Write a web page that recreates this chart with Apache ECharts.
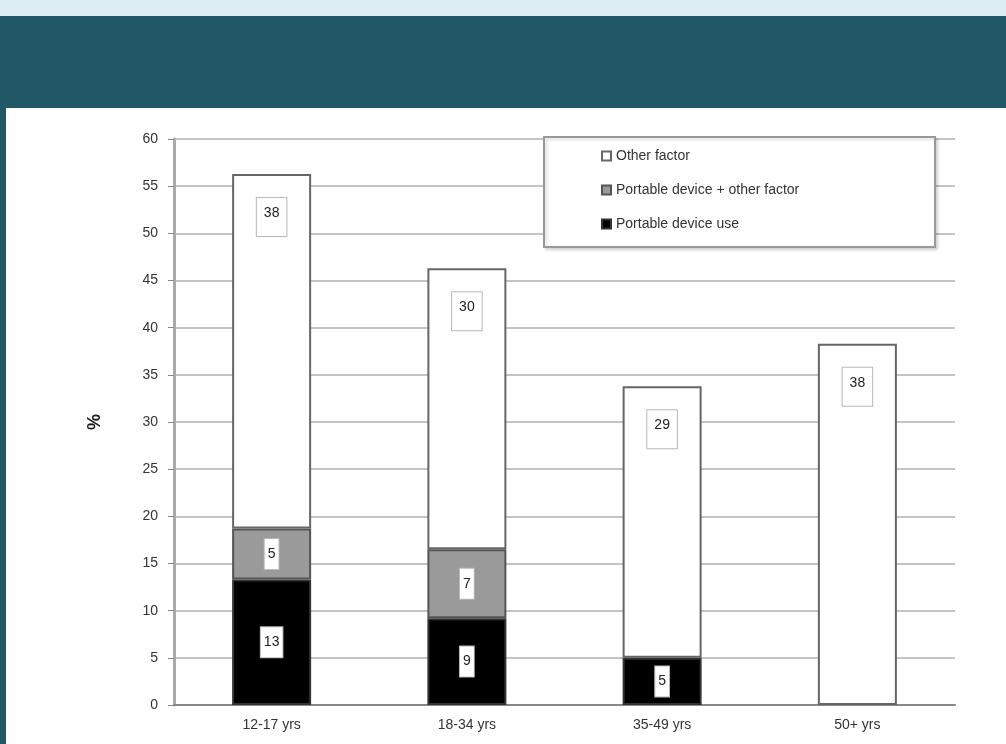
<!DOCTYPE html>
<html><head><meta charset="utf-8">
<script src="https://cdn.jsdelivr.net/npm/echarts@6/dist/echarts.min.js"></script>
<style>html,body{margin:0;padding:0;background:#fff}#c{width:1006px;height:744px}</style>
</head><body><div id="c"></div>
<script>
const categories = ['12-17 yrs', '18-34 yrs', '35-49 yrs', '50+ yrs'];
const deviceUse = [13.3, 9.2, 5.0, null];
const deviceOther = [5.4, 7.3, null, null];
const otherFactor = [37.6, 29.8, 28.8, 38.3];
const seriesNames = ['Portable device use', 'Portable device + other factor', 'Other factor'];

const chart = echarts.init(document.getElementById('c'));
const lbl = {
  show: true,
  formatter: p => Math.round(p.value),
  backgroundColor: '#fff', borderColor: '#b8b8b8', borderWidth: 1,
  padding: [6, 3, 10, 3], color: '#222', fontSize: 14, fontFamily: 'Liberation Sans'
};
const barBase = { type: 'bar', stack: 't', barWidth: 79 };
chart.setOption({
  animation: false,
  graphic: [
    { type: 'rect', shape: { x: 0, y: 0, width: 1006, height: 16 }, style: { fill: '#dcedf4' }, z: -10 },
    { type: 'rect', shape: { x: 0, y: 16, width: 1006, height: 92 }, style: { fill: '#215868' }, z: -10 },
    { type: 'rect', shape: { x: 0, y: 108, width: 6, height: 636 }, style: { fill: '#215868' }, z: -10 },
    { type: 'rect', shape: { x: 544, y: 137, width: 391, height: 110 },
      style: { fill: '#fff', stroke: '#999', lineWidth: 2, shadowColor: 'rgba(0,0,0,0.15)', shadowBlur: 3, shadowOffsetX: 2, shadowOffsetY: 2 }, z: 50 }
  ],
  legend: {
    data: ['Other factor', 'Portable device + other factor', 'Portable device use'],
    orient: 'vertical', left: 596, top: 144, itemGap: 20, z: 60,
    icon: 'rect', itemWidth: 9, itemHeight: 9,
    textStyle: { fontSize: 14, color: '#333', fontFamily: 'Liberation Sans' }
  },
  grid: { left: 174, right: 51, top: 139, bottom: 39 },
  xAxis: {
    type: 'category', data: categories,
    axisLine: { lineStyle: { color: '#888', width: 2 } },
    axisTick: { show: false },
    axisLabel: { fontSize: 14, color: '#333', fontFamily: 'Liberation Sans', margin: 13 }
  },
  yAxis: {
    type: 'value', min: 0, max: 60, interval: 5,
    name: '%', nameLocation: 'middle', nameGap: 70, nameRotate: 90,
    nameTextStyle: { fontSize: 18, color: '#222', fontFamily: 'Liberation Sans', fontWeight: 'bold' },
    axisLine: { show: true, lineStyle: { color: '#aaa', width: 3 } },
    axisTick: { show: true, length: 6, lineStyle: { color: '#888' } },
    axisLabel: { fontSize: 14, color: '#333', fontFamily: 'Liberation Sans', margin: 16 },
    splitLine: { lineStyle: { color: '#c4c4c4', width: 2 } }
  },
  series: [
    Object.assign({}, barBase, { name: seriesNames[0], data: deviceUse,
      itemStyle: { color: '#000', borderColor: '#333', borderWidth: 2 }, label: lbl }),
    Object.assign({}, barBase, { name: seriesNames[1], data: deviceOther,
      itemStyle: { color: '#9a9a9a', borderColor: '#555', borderWidth: 2 }, label: lbl }),
    Object.assign({}, barBase, { name: seriesNames[2], data: otherFactor,
      itemStyle: { color: '#fff', borderColor: '#666', borderWidth: 2 },
      label: Object.assign({}, lbl, { position: 'insideTop', distance: 24, padding: [8, 7, 16, 7] }) })
  ]
});
</script></body></html>
